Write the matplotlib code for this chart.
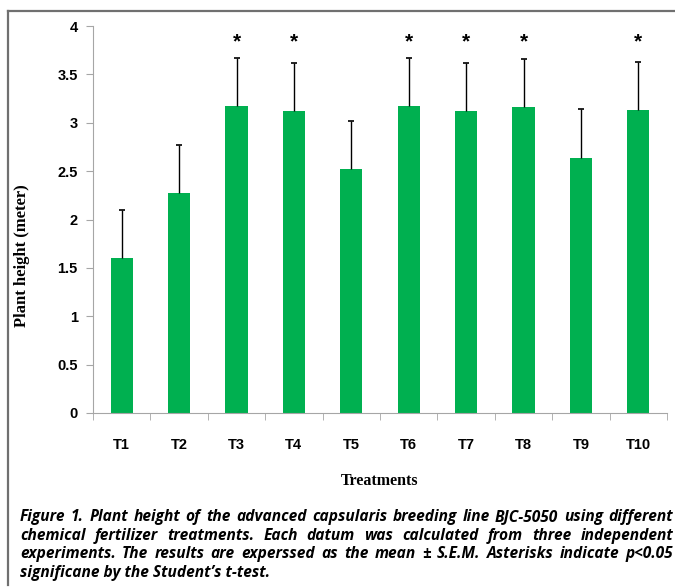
import matplotlib
matplotlib.use("Agg")
import matplotlib.pyplot as plt
from matplotlib.lines import Line2D
import numpy as np

# data
treatments = ["T1", "T2", "T3", "T4", "T5", "T6", "T7", "T8", "T9", "T10"]
heights = [1.60, 2.27, 3.17, 3.12, 2.52, 3.17, 3.12, 3.16, 2.64, 3.13]
sem = [0.50, 0.50, 0.50, 0.50, 0.50, 0.50, 0.50, 0.50, 0.50, 0.50]
significant = [False, False, True, True, False, True, True, True, False, True]
y_ticks = [0, 0.5, 1, 1.5, 2, 2.5, 3, 3.5, 4]
y_ticklabels = ["0", "0.5", "1", "1.5", "2", "2.5", "3", "3.5", "4"]

caption_lines = [
    "Figure 1. Plant height of the advanced capsularis breeding line BJC-5050 using different",
    "chemical fertilizer treatments. Each datum was calculated from three independent",
    "experiments. The results are experssed as the mean \u00b1 S.E.M. Asterisks indicate p<0.05",
    "significane by the Student\u2019s t-test.",
]

W, H = 675, 587
fig = plt.figure(figsize=(W / 100, H / 100), dpi=100)

green = "#00B050"
grey = "#A6A6A6"

ax = fig.add_axes([93 / W, (H - 413) / H, (667 - 93) / W, (413 - 26) / H])
x = np.arange(len(treatments))
tops = np.array(heights) + np.array(sem)
ax.bar(x, heights, width=0.39, color=green, zorder=2)
# upper-only error bars
ax.vlines(x, heights, tops, color="black", lw=1.0, zorder=3)
ax.plot(x, tops, ls="none", marker="_", ms=5, mew=1.2, color="black", zorder=3)

for xi, flag in zip(x, significant):
    if flag:
        ax.text(xi, 3.84, "*", ha="center", va="center", fontsize=15,
                fontweight="bold", family="Liberation Sans")

ax.set_xlim(-0.5, len(treatments) - 0.5)
ax.set_ylim(0, 4)
ax.set_yticks(y_ticks)
ax.set_yticklabels(y_ticklabels, fontsize=10.5, fontweight="bold", family="Liberation Sans")
ax.set_xticks(x)
ax.set_xticklabels(treatments, fontsize=10.5, fontweight="bold", family="Liberation Sans")
ax.set_xticks(np.arange(len(treatments) + 1) - 0.5, minor=True)
ax.tick_params(axis="x", which="major", length=0, pad=18)
ax.tick_params(axis="x", which="minor", length=5, color=grey, direction="out")
ax.tick_params(axis="y", length=5, color=grey, direction="out", pad=6)

for side in ["top", "right"]:
    ax.spines[side].set_visible(False)
ax.spines["left"].set_color(grey)
ax.spines["bottom"].set_color(grey)

ax.set_ylabel("Plant height (meter)", fontsize=12, fontweight="bold", family="Liberation Serif")
ax.yaxis.set_label_coords((30 - 93) / (667 - 93), (413 - 256) / (413 - 26))
ax.set_xlabel("Treatments", fontsize=11.5, fontweight="bold", family="Liberation Serif")
ax.xaxis.set_label_coords(0.5, -(473 - 413) / (413 - 26))

# frame lines around the figure panel
fig.add_artist(Line2D([8 / W, 8 / W], [1 - 11 / H, 1 - 585 / H], color="#707070", lw=1.6))
fig.add_artist(Line2D([8 / W, 1.0], [1 - 11 / H, 1 - 11 / H], color="#707070", lw=1.6))

# justified caption
fig.canvas.draw()
renderer = fig.canvas.get_renderer()
left_px, right_px = 20, 673
line_y = [521, 540, 558, 577]
cap_font = dict(fontstyle="italic", fontweight="bold", family="Open Sans")
probe = fig.text(0, 0, caption_lines[0], fontsize=10, **cap_font)
natural = probe.get_window_extent(renderer).width
probe.remove()
cap_size = min(11.2, 10 * (right_px - left_px - 8) / natural)
for i, (line, ypx) in enumerate(zip(caption_lines, line_y)):
    words = line.split(" ")
    yf = 1 - ypx / H
    if i == len(caption_lines) - 1:
        fig.text(left_px / W, yf, line, va="baseline", ha="left", fontsize=cap_size, **cap_font)
        continue
    texts = [fig.text(0, yf, w, va="baseline", ha="left", fontsize=cap_size, **cap_font)
             for w in words]
    widths = [t.get_window_extent(renderer).width for t in texts]
    gap = (right_px - left_px - sum(widths)) / (len(words) - 1)
    pos = left_px
    for t, wd in zip(texts, widths):
        t.set_x(pos / W)
        pos += wd + gap

fig.savefig("out.png", dpi=100)
